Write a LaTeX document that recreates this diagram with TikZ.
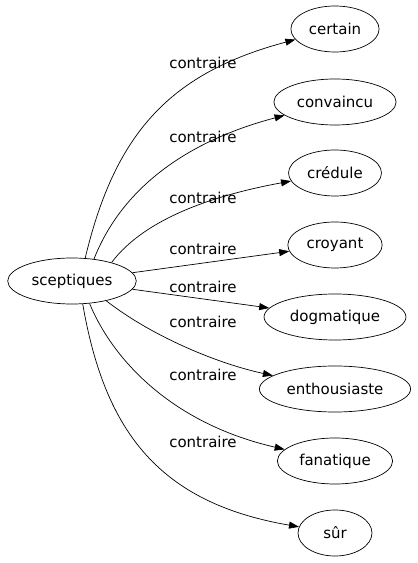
\documentclass[tikz,border=0pt]{standalone}
\usepackage{fontspec}
\setmainfont{DejaVu Sans}
\usetikzlibrary{arrows.meta,shapes.geometric}

\begin{document}
\begin{tikzpicture}[x=1pt, y=1pt, line width=0.7pt, >={Triangle[length=10pt,width=7pt]},
                    word/.style = {draw, ellipse, inner xsep=5pt, minimum height=46pt,
                                   minimum width=74pt, font=\fontsize{15}{18}\selectfont},
                    rel/.style = {font=\fontsize{15}{18}\selectfont}]
\useasboundingbox (0,0) rectangle (418,563);
\node[word] (sceptiques) at (72,282) {sceptiques};
\node[word] (certain) at (335,534) {certain};
\node[word] (convaincu) at (335,461) {convaincu};
\node[word] (credule) at (335,390) {crédule};
\node[word] (croyant) at (335,318) {croyant};
\node[word] (dogmatique) at (335,246) {dogmatique};
\node[word] (enthousiaste) at (335,174) {enthousiaste};
\node[word] (fanatique) at (335,102) {fanatique};
\node[word] (sur) at (335,30) {sûr};
% labels
\node[rel] (r1) at (203,500) {contraire};
\node[rel] (r2) at (203,426) {contraire};
\node[rel] (r3) at (203,365) {contraire};
\node[rel] (r4) at (203,314) {contraire};
\node[rel] (r5) at (203,276) {contraire};
\node[rel] (r6) at (203,241) {contraire};
\node[rel] (r7) at (203,188) {contraire};
\node[rel] (r8) at (203,121) {contraire};
% edges
\draw[->] (sceptiques.60) .. controls (115,430) and (170,490) .. (certain);
\draw[->] (sceptiques.45) .. controls (120,370) and (180,420) .. (convaincu);
\draw[->] (sceptiques.25) .. controls (145,345) and (215,368) .. (credule);
\draw[->] (sceptiques) -- (croyant);
\draw[->] (sceptiques) -- (dogmatique);
\draw[->] (sceptiques.-30) .. controls (150,228) and (215,200) .. (enthousiaste);
\draw[->] (sceptiques.-52) .. controls (112,205) and (170,140) .. (fanatique);
\draw[->] (sceptiques.-65) .. controls (105,130) and (160,60) .. (sur);
\end{tikzpicture}
\end{document}
